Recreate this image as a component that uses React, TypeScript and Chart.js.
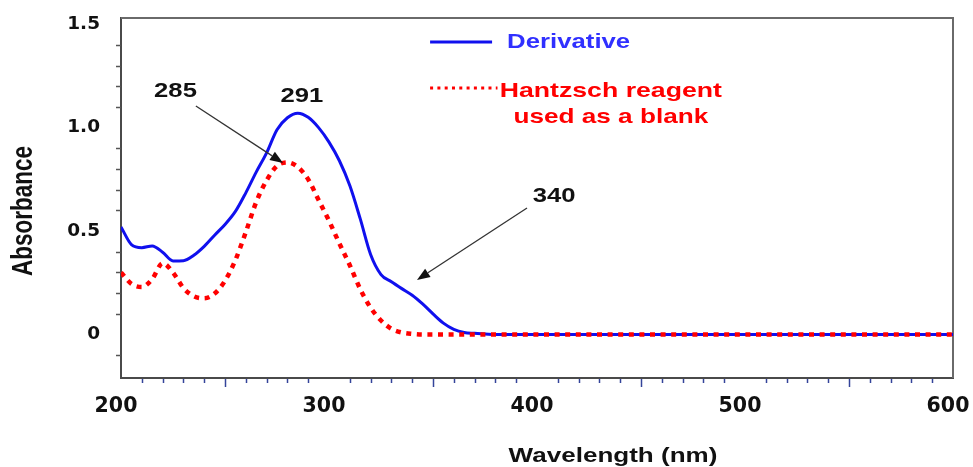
import React, { useEffect, useRef } from 'react';
import { Chart, registerables } from 'chart.js';

Chart.register(...registerables);

// ---------- data ----------
const wavelengths = [
  200, 205, 210, 215, 220, 225, 230, 235, 240, 245, 250, 255, 260, 265, 270, 275, 280, 285, 290,
  295, 300, 305, 310, 315, 320, 325, 330, 335, 340, 345, 350, 355, 360, 365, 370, 375, 380,
  400, 450, 500, 550, 600,
];

const derivative = [
  0.52, 0.435, 0.42, 0.428, 0.398, 0.356, 0.357, 0.383, 0.426, 0.48, 0.532, 0.595, 0.685, 0.785,
  0.878, 0.99, 1.048, 1.07, 1.05, 1.0, 0.93, 0.84, 0.72, 0.56, 0.387, 0.29, 0.255, 0.222, 0.19,
  0.148, 0.1, 0.055, 0.025, 0.01, 0.006, 0.003, 0, 0, 0, 0, 0, 0,
];

const hantzschBlank = [
  0.3, 0.245, 0.23, 0.268, 0.345, 0.3, 0.225, 0.185, 0.175, 0.198, 0.26, 0.36, 0.495, 0.64,
  0.745, 0.815, 0.832, 0.81, 0.75, 0.65, 0.55, 0.44, 0.335, 0.22, 0.13, 0.068, 0.028, 0.01,
  0.003, 0, 0, 0, 0, 0, 0, 0, 0, 0, 0, 0, 0, 0,
];

const xTickLabels = [200, 300, 400, 500, 600];
const yTickLabels = [0, 0.5, 1.0, 1.5];

const seriesNames = ['Derivative', 'Hantzsch reagent', 'used as a blank'];
const xTitle = 'Wavelength (nm)';
const yTitle = 'Absorbance';

// annotation: label text, label position (nm, absorbance), arrow start, arrow tip
const peakLabels = ['285', '291', '340'];
const peakLabelPos = [
  [226.2, 1.148],
  [287, 1.125],
  [408.2, 0.639],
];
const arrowLines = [
  [236, 1.105, 277.9, 0.829],
  [395.2, 0.612, 342.3, 0.264],
];

const BLUE = '#1010ee';
const RED = '#ff0000';
const SX = 1.27; // horizontal stretch of the original picture's text

function stretchedText(
  ctx: CanvasRenderingContext2D,
  text: string,
  x: number,
  y: number,
  size: number,
  color: string,
  align: CanvasTextAlign
) {
  ctx.save();
  ctx.translate(x, y);
  ctx.scale(SX, 1);
  ctx.font = `bold ${size}px "Liberation Sans", Arial, sans-serif`;
  ctx.fillStyle = color;
  ctx.textAlign = align;
  ctx.textBaseline = 'alphabetic';
  ctx.fillText(text, 0, 0);
  ctx.restore();
}

const framePlugin = {
  id: 'frame',
  beforeDatasetsDraw(chart: any) {
    const { ctx, chartArea } = chart;
    const xs = chart.scales.x;
    const ys = chart.scales.y;
    ctx.save();
    // top & right frame lines
    ctx.strokeStyle = '#6a6a6a';
    ctx.lineWidth = 2;
    ctx.beginPath();
    ctx.moveTo(chartArea.left, chartArea.top);
    ctx.lineTo(chartArea.right, chartArea.top);
    ctx.lineTo(chartArea.right, chartArea.bottom);
    ctx.stroke();
    // x minor ticks
    ctx.strokeStyle = '#34449a';
    ctx.lineWidth = 1.5;
    for (let v = 210; v < 600; v += 10) {
      if (v % 100 === 0) continue;
      const len = v % 100 === 50 ? 8 : 4;
      const px = Math.round(xs.getPixelForValue(v)) + 0.5;
      ctx.beginPath();
      ctx.moveTo(px, chartArea.bottom + 1);
      ctx.lineTo(px, chartArea.bottom + 1 + len);
      ctx.stroke();
    }
    // y minor ticks
    ctx.strokeStyle = '#555';
    for (let i = -1; i <= 14; i++) {
      if (i % 5 === 0) continue;
      const py = Math.round(ys.getPixelForValue(i / 10)) + 0.5;
      ctx.beginPath();
      ctx.moveTo(chartArea.left - 5, py);
      ctx.lineTo(chartArea.left, py);
      ctx.stroke();
    }
    ctx.restore();
  },
  afterDatasetsDraw(chart: any) {
    const { ctx } = chart;
    const xs = chart.scales.x;
    const ys = chart.scales.y;
    const X = (v: number) => xs.getPixelForValue(v);
    const Y = (v: number) => ys.getPixelForValue(v);

    // legend
    ctx.save();
    ctx.strokeStyle = BLUE;
    ctx.lineWidth = 3;
    ctx.beginPath();
    ctx.moveTo(X(348.6), Y(1.414));
    ctx.lineTo(X(378.4), Y(1.414));
    ctx.stroke();
    ctx.strokeStyle = RED;
    ctx.lineWidth = 3;
    ctx.setLineDash([3, 4.3]);
    ctx.beginPath();
    ctx.moveTo(X(348.6), Y(1.192));
    ctx.lineTo(X(381), Y(1.192));
    ctx.stroke();
    ctx.restore();
    stretchedText(ctx, seriesNames[0], X(385.6), Y(1.384), 20.3, '#3030ff', 'left');
    stretchedText(ctx, seriesNames[1], X(435.5), Y(1.15), 21, RED, 'center');
    stretchedText(ctx, seriesNames[2], X(435.5), Y(1.021), 20.6, RED, 'center');

    // peak labels
    peakLabels.forEach((t, i) => {
      stretchedText(ctx, t, X(peakLabelPos[i][0]), Y(peakLabelPos[i][1]), 20.2, '#111', 'center');
    });

    // arrows
    arrowLines.forEach(([x0, y0, x1, y1]) => {
      const ax = X(x0), ay = Y(y0), bx = X(x1), by = Y(y1);
      const ang = Math.atan2(by - ay, bx - ax);
      const hl = 13, hw = 5;
      const baseX = bx - hl * Math.cos(ang), baseY = by - hl * Math.sin(ang);
      ctx.save();
      ctx.strokeStyle = '#333';
      ctx.lineWidth = 1.3;
      ctx.beginPath();
      ctx.moveTo(ax, ay);
      ctx.lineTo(baseX, baseY);
      ctx.stroke();
      ctx.fillStyle = '#111';
      ctx.beginPath();
      ctx.moveTo(bx, by);
      ctx.lineTo(baseX + hw * Math.sin(ang), baseY - hw * Math.cos(ang));
      ctx.lineTo(baseX - hw * Math.sin(ang), baseY + hw * Math.cos(ang));
      ctx.closePath();
      ctx.fill();
      ctx.restore();
    });
  },
  afterDraw(chart: any) {
    const { ctx, chartArea } = chart;
    // x title
    stretchedText(ctx, xTitle, 613, 462, 20.5, '#111', 'center');
    // y title (rotated)
    ctx.save();
    ctx.translate(32, 211);
    ctx.scale(SX, 1);
    ctx.rotate(-Math.PI / 2);
    ctx.font = 'bold 22.5px "Liberation Sans", Arial, sans-serif';
    ctx.fillStyle = '#111';
    ctx.textAlign = 'center';
    ctx.textBaseline = 'alphabetic';
    ctx.fillText(yTitle, 0, 0);
    ctx.restore();
    void chartArea;
  },
};

export default function App() {
  const ref = useRef<HTMLCanvasElement>(null);
  useEffect(() => {
    const canvas = ref.current;
    if (!canvas) return;
    const chart = new Chart(canvas, {
      type: 'line',
      data: {
        datasets: [
          {
            label: seriesNames[1],
            data: wavelengths.map((w, i) => ({ x: w, y: hantzschBlank[i] })),
            borderColor: RED,
            borderWidth: 4.5,
            borderDash: [5, 5.6],
            borderCapStyle: 'butt',
            pointRadius: 0,
            fill: false,
            cubicInterpolationMode: 'monotone',
          },
          {
            label: seriesNames[0],
            data: wavelengths.map((w, i) => ({ x: w, y: derivative[i] })),
            borderColor: BLUE,
            borderWidth: 3,
            pointRadius: 0,
            fill: false,
            cubicInterpolationMode: 'monotone',
          },
        ],
      },
      options: {
        animation: false,
        responsive: false,
        devicePixelRatio: 1,
        events: [],
        layout: { padding: { left: 0, right: 20, top: 18, bottom: 0 } },
        plugins: { legend: { display: false }, tooltip: { enabled: false }, title: { display: false } },
        scales: {
          x: {
            type: 'linear',
            min: 200,
            max: 600,
            afterBuildTicks: (s: any) => {
              s.ticks = xTickLabels.map((v) => ({ value: v }));
            },
            afterFit: (s: any) => {
              s.height = 89;
              s.paddingLeft = 0;
              s.paddingRight = 0;
            },
            grid: { display: false, drawTicks: false },
            border: { display: true, color: '#4a4a4a', width: 2 },
            ticks: {
              autoSkip: false,
              maxRotation: 0,
              padding: 16,
              labelOffset: -5,
              color: '#111',
              font: { family: '"DejaVu Sans", sans-serif', size: 20.5, weight: 'bold' },
              callback: (v: any) => String(v),
            },
          },
          y: {
            type: 'linear',
            min: -0.21,
            max: 1.53,
            afterBuildTicks: (s: any) => {
              s.ticks = yTickLabels.map((v) => ({ value: v }));
            },
            afterFit: (s: any) => {
              s.width = 121;
              s.paddingTop = 0;
              s.paddingBottom = 0;
            },
            grid: { display: false, drawTicks: false },
            border: { display: true, color: '#4a4a4a', width: 2 },
            ticks: {
              autoSkip: false,
              padding: 21,
              color: '#111',
              font: { family: '"DejaVu Sans", sans-serif', size: 18.5, weight: 'bold' },
              callback: (v: any) => (Number(v) === 0 ? '0' : Number(v).toFixed(1)),
            },
          },
        },
      } as any,
      plugins: [framePlugin],
    });
    return () => chart.destroy();
  }, []);

  return (
    <div style={{ position: 'absolute', left: 0, top: 0, width: 973, height: 467, background: '#fff' }}>
      <canvas ref={ref} width={973} height={467} style={{ display: 'block', width: 973, height: 467 }} />
    </div>
  );
}
